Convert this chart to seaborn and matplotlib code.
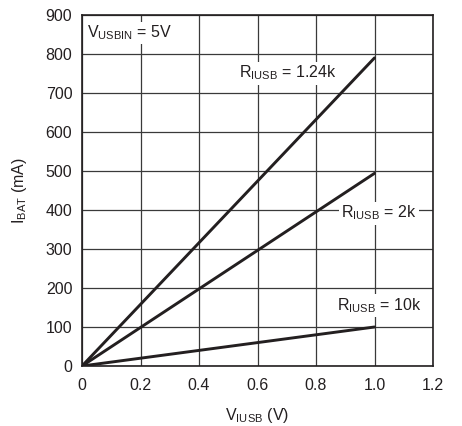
import matplotlib
matplotlib.use('Agg')
import matplotlib.pyplot as plt
import pandas as pd
import seaborn as sns

# data
v_iusb = [0.0, 1.0]
i_bat_124k = [0, 790]
i_bat_2k = [0, 494]
i_bat_10k = [0, 100]
series_labels = ['$R_{IUSB}$ = 1.24k', '$R_{IUSB}$ = 2k', '$R_{IUSB}$ = 10k']
x_ticks = [0, 0.2, 0.4, 0.6, 0.8, 1.0, 1.2]
x_tick_labels = ['0', '0.2', '0.4', '0.6', '0.8', '1.0', '1.2']
y_ticks = list(range(0, 1000, 100))

sns.set_style("white")
plt.rcParams['font.family'] = ['Liberation Sans', 'DejaVu Sans']
plt.rcParams['mathtext.default'] = 'regular'

fig = plt.figure(figsize=(4.62, 4.26), dpi=100)
ax = fig.add_axes([82 / 462, 1 - 366 / 426, 351 / 462, 351 / 426])

df = pd.DataFrame({
    'V': v_iusb * 3,
    'I': i_bat_124k + i_bat_2k + i_bat_10k,
    'R': [series_labels[0]] * 2 + [series_labels[1]] * 2 + [series_labels[2]] * 2,
})
sns.lineplot(data=df, x='V', y='I', units='R', estimator=None,
             color='#231f20', linewidth=2.1, ax=ax, legend=False, zorder=3)

ax.set_xlim(0, 1.2)
ax.set_ylim(0, 900)
ax.set_xticks(x_ticks)
ax.set_xticklabels(x_tick_labels)
ax.set_yticks(y_ticks)
ax.grid(True, color='#3a3a3a', linewidth=0.9)
ax.set_axisbelow(True)
for s in ax.spines.values():
    s.set_color('#231f20')
    s.set_linewidth(1.2)
ax.tick_params(labelsize=11.5, length=0, colors='#231f20')
ax.tick_params(axis='x', pad=9)
ax.tick_params(axis='y', pad=7)

ax.set_xlabel('$V_{IUSB}$ (V)', fontsize=11.5, color='#231f20', labelpad=9)
ax.set_ylabel('$I_{BAT}$ (mA)', fontsize=11.5, color='#231f20', labelpad=12)

box = dict(facecolor='white', edgecolor='none', pad=1.5)
fs = 11.5
ax.text(0.017, 854, '$V_{USBIN}$ = 5V', fontsize=fs, va='center', ha='left',
        bbox=box, zorder=4, color='#231f20')
ax.text(0.537, 751, series_labels[0], fontsize=fs, va='center', ha='left',
        bbox=box, zorder=4, color='#231f20')
ax.text(0.885, 392, series_labels[1], fontsize=fs, va='center', ha='left',
        bbox=box, zorder=4, color='#231f20')
ax.text(0.872, 156, series_labels[2], fontsize=fs, va='center', ha='left',
        bbox=box, zorder=4, color='#231f20')

fig.savefig('out.png', dpi=100)
